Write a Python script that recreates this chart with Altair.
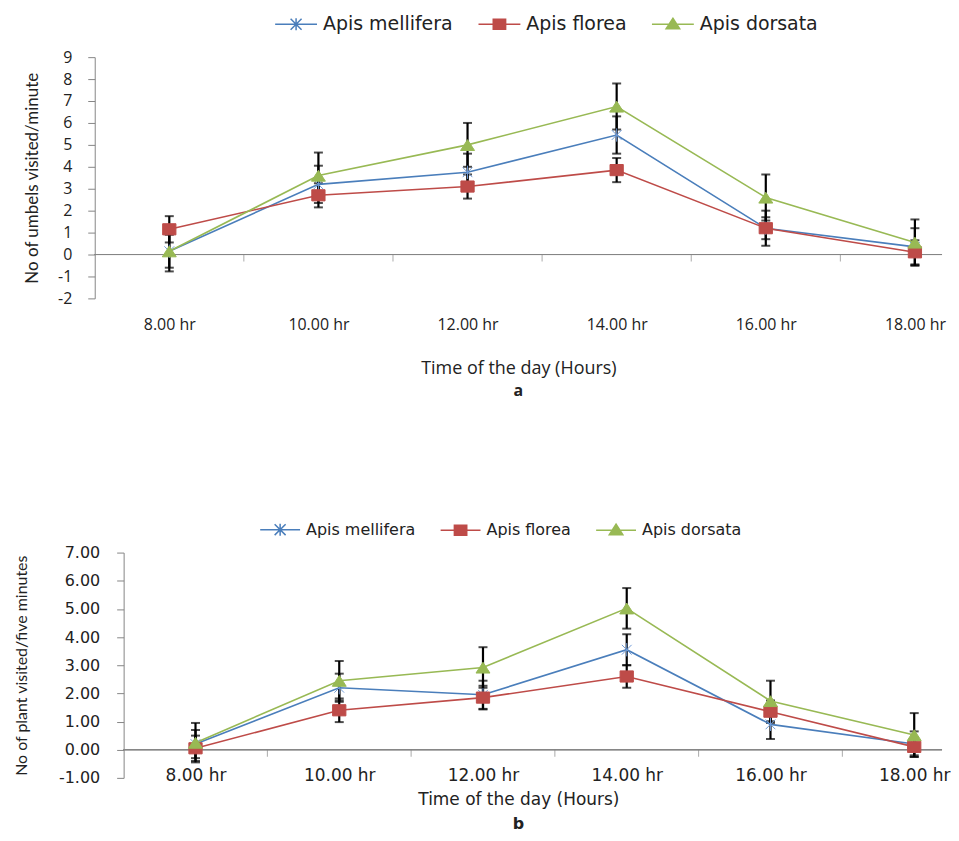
import altair as alt
import pandas as pd

# ---------------- data ----------------
times = ["8.00 hr", "10.00 hr", "12.00 hr", "14.00 hr", "16.00 hr", "18.00 hr"]
series = ["Apis mellifera", "Apis florea", "Apis dorsata"]
colors = ["#4A7EBB", "#BE4B48", "#98B954"]

# panel a: No of umbels visited/minute
a_mellifera = [0.15, 3.2, 3.75, 5.45, 1.2, 0.35]
a_mellifera_err = [0.75, 0.85, 0.85, 0.85, 0.8, 0.85]
a_florea = [1.15, 2.7, 3.1, 3.85, 1.2, 0.1]
a_florea_err = [0.6, 0.55, 0.55, 0.55, 0.5, 0.55]
a_dorsata = [0.15, 3.6, 5.0, 6.75, 2.6, 0.55]
a_dorsata_err = [0.92, 1.05, 1.0, 1.05, 1.05, 1.05]

# panel b: No of plant visited/five minutes
b_mellifera = [0.2, 2.2, 1.95, 3.55, 0.9, 0.2]
b_mellifera_err = [0.5, 0.5, 0.5, 0.55, 0.52, 0.45]
b_florea = [0.05, 1.4, 1.85, 2.6, 1.35, 0.1]
b_florea_err = [0.45, 0.42, 0.42, 0.4, 0.4, 0.3]
b_dorsata = [0.25, 2.45, 2.92, 5.02, 1.73, 0.52]
b_dorsata_err = [0.7, 0.7, 0.72, 0.72, 0.72, 0.78]

a_yticks = list(range(-2, 10))
b_yticks = list(range(-1, 8))

GREY = "#868686"
TXT = "#222222"


def build(vals, errs):
    rows = []
    for s, v, e in zip(series, vals, errs):
        for i, t in enumerate(times):
            rows.append(dict(time=t, pos=i + 0.5, series=s, value=v[i],
                             lo=v[i] - e[i], hi=v[i] + e[i]))
    return pd.DataFrame(rows)


df_a = build([a_mellifera, a_florea, a_dorsata], [a_mellifera_err, a_florea_err, a_dorsata_err])
df_b = build([b_mellifera, b_florea, b_dorsata], [b_mellifera_err, b_florea_err, b_dorsata_err])
bounds = pd.DataFrame({"b": list(range(1, len(times)))})

# marker shapes (custom paths in unit box)
point_paths = [
    "M-0.7,-0.7L0.7,0.7M-0.7,0.7L0.7,-0.7M0,-0.95V0.95",
    "M-0.95,-0.8H0.95V0.8H-0.95Z",
    "M0,-0.75L1,0.8H-1Z",
]


def legend_paths(L):
    return [
        f"M-{L},0H{L}M-0.55,-0.55L0.55,0.55M-0.55,0.55L0.55,-0.55M0,-0.6V0.6",
        f"M-{L},0H{L}M-0.62,-0.5H0.62V0.5H-0.62Z",
        f"M-{L},0H{L}M0,-0.6L0.68,0.45H-0.68Z",
    ]


def panel(df, c):
    x_scale = alt.Scale(domain=c["xdom"], nice=False, zero=False)
    y_scale = alt.Scale(domain=c["ydom"], nice=False, zero=False)
    label_expr = "[" + ",".join(f"'{t}'" for t in times) + "][round(datum.value - 0.5)]"
    x_axis = alt.Axis(values=[i + 0.5 for i in range(len(times))], labelExpr=label_expr,
                      ticks=False, domain=False, grid=False,
                      labelFont=c["xfont"], labelFontSize=c["xlabsize"], labelColor=TXT,
                      labelPadding=c["xlabpad"],
                      title="Time of the day (Hours)", titleFont=c["xfont"],
                      titleFontSize=c["xtitlesize"], titleFontWeight="normal",
                      titleColor=TXT, titlePadding=c["xtitlepad"])
    y_axis = alt.Axis(values=c["yticks"], format=c["fmt"], grid=False,
                      labelExpr="replace(datum.label, '\u2212', '-')",
                      domainColor=GREY, tickColor=GREY, tickSize=7, offset=c["yoffset"],
                      labelFont=c["yfont"], labelFontSize=c["ylabsize"], labelColor=TXT,
                      labelPadding=c["ylabpad"],
                      title=c["ytitle"], titleFont="Lato", titleFontSize=c["ytitlesize"],
                      titleFontWeight="normal", titleColor=TXT, titlePadding=c["ytitlepad"])

    def X(f):
        return alt.X(f, type="quantitative", scale=x_scale, axis=x_axis)

    def Y(f):
        return alt.Y(f, type="quantitative", scale=y_scale, axis=y_axis)

    base = alt.Chart(df)
    layers = []
    # horizontal axis line at zero
    layers.append(alt.Chart(bounds).mark_rule(color=GREY, strokeWidth=1).encode(
        x=alt.XDatum(0, type="quantitative", scale=x_scale, axis=x_axis),
        x2=alt.value(c["width"]),
        y=alt.YDatum(0, type="quantitative", scale=y_scale, axis=y_axis)))
    layers.append(alt.Chart(bounds).mark_tick(orient="vertical", size=7, thickness=1,
                                              yOffset=3.5, color=GREY).encode(
        x=X("b"), y=alt.YDatum(0, type="quantitative", scale=y_scale, axis=y_axis)))
    # error bars
    layers.append(base.mark_rule(color="black", strokeWidth=2.2).encode(
        x=X("pos"), y=Y("lo"), y2="hi"))
    layers.append(base.mark_tick(orient="horizontal", size=9, thickness=2, color="black").encode(
        x=X("pos"), y=Y("lo")))
    layers.append(base.mark_tick(orient="horizontal", size=9, thickness=2, color="black").encode(
        x=X("pos"), y=Y("hi")))
    # lines
    for s, col in zip(series, colors):
        layers.append(base.transform_filter(alt.datum.series == s).mark_line(
            color=col, strokeWidth=1.6).encode(x=X("pos"), y=Y("value")))
    # markers
    marker_cols = ["#6F9BD8", colors[1], colors[2]]
    for s, col, path in zip(series, marker_cols, point_paths):
        layers.append(base.transform_filter(alt.datum.series == s).mark_point(
            filled=True, shape=path, size=196, fill=col, stroke=col, strokeWidth=1,
            opacity=1).encode(x=X("pos"), y=Y("value")))
    # invisible layer that carries the legend
    leg = alt.Legend(orient="none", legendX=c["legx"], legendY=c["legy"], direction="horizontal",
                     columns=3, title=None, symbolSize=400, symbolStrokeWidth=1.5,
                     symbolOpacity=1, labelFont="DejaVu Sans", labelFontSize=c["legsize"],
                     labelColor=TXT, labelOffset=c["legoff"], columnPadding=c["legpad"],
                     padding=0, labelLimit=400, rowPadding=0)
    layers.append(base.mark_point(filled=True, opacity=0, strokeWidth=1.5).encode(
        x=X("pos"), y=Y("value"),
        fill=alt.Fill("series:N", scale=alt.Scale(domain=series, range=colors), legend=leg),
        stroke=alt.Stroke("series:N", scale=alt.Scale(domain=series, range=colors), legend=leg),
        shape=alt.Shape("series:N", scale=alt.Scale(domain=series, range=legend_paths(c["legL"])),
                        legend=leg)))
    return alt.layer(*layers).properties(
        width=c["width"], height=c["height"],
        title=alt.Title(c["label"], orient="bottom", anchor="middle", font=c["lfont"],
                        fontSize=16, fontWeight="bold", color=TXT, offset=c["loff"]))


cfg_a = dict(xdom=[0, 850 / 149.6], ydom=[-2, 9], width=850, height=242,
             yticks=a_yticks, fmt="d", yoffset=0, xfont="Open Sans", xlabsize=16,
             xlabpad=18, xtitlesize=18, xtitlepad=27, yfont="Open Sans", ylabsize=16,
             ylabpad=16, ytitle="No of umbels visited/minute", ytitlesize=17, ytitlepad=16,
             legx=191, legy=-44, legsize=19, legoff=16, legpad=22, legL=2.1,
             label="a", lfont="Open Sans", loff=6)
cfg_b = dict(xdom=[-29 / 144.2, (850 - 29) / 144.2], ydom=[-1, 7], width=850, height=226,
             yticks=b_yticks, fmt=".2f", yoffset=-29, xfont="DejaVu Sans", xlabsize=17,
             xlabpad=-10, xtitlesize=17, xtitlepad=8, yfont="DejaVu Sans", ylabsize=16,
             ylabpad=17, ytitle="No of plant visited/five minutes", ytitlesize=16, ytitlepad=29,
             legx=175, legy=-34, legsize=16, legoff=15, legpad=22, legL=2.0,
             label="b", lfont="DejaVu Sans", loff=8)

pa = panel(df_a, cfg_a)
pb = panel(df_b, cfg_b)

chart = alt.vconcat(pa, pb, spacing=120).resolve_scale(
    fill="independent", stroke="independent", shape="independent"
).properties(
    padding={"left": 5, "top": 4, "right": 0, "bottom": 0}
).configure_view(stroke=None)

chart.save("out.html", embed_options={"renderer": "svg", "actions": False})
